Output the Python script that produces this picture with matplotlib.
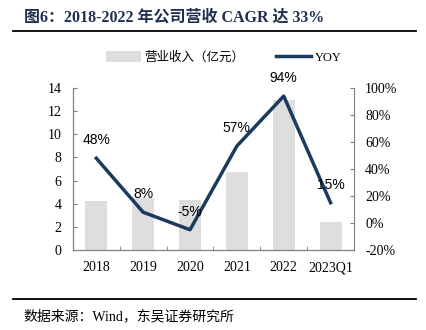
import matplotlib.pyplot as plt
import numpy as np

plt.rcParams['font.family'] = ['Liberation Serif', 'Noto Sans CJK SC']

# revenue (100m yuan) and yoy growth
years = ["2018", "2019", "2020", "2021", "2022", "2023Q1"]
revenue = [4.2, 4.5, 4.3, 6.7, 13.0, 2.4]
yoy = [48, 8, -5, 57, 94, 15]
yoy_labels = ["48%", "8%", "-5%", "57%", "94%", "15%"]

NAVY = "#1B3A5E"
BAR_GREY = "#DEDEDE"
SPINE = "#808080"

fig = plt.figure(figsize=(4.26, 3.30), dpi=100)

# header / footer
fig.text(0.056, 0.948, "图6：2018-2022 年公司营收 CAGR 达 33%", fontsize=11.5,
         fontweight="bold", color="#1F3050", va="center",
         family=["Liberation Serif", "Noto Sans CJK SC"])
fig.add_artist(plt.Line2D([0.031, 0.977], [0.906, 0.906], color="black", lw=1.3))
fig.add_artist(plt.Line2D([0.031, 0.977], [0.094, 0.094], color="black", lw=1.3))
fig.text(0.054, 0.042, "数据来源：Wind，东吴证券研究所", fontsize=10, va="center",
         family=["Liberation Serif", "Noto Sans CJK SC"])

ax = fig.add_axes([0.171, 0.2424, 0.66, 0.4909])
x = np.arange(len(years))
bars = ax.bar(x, revenue, width=0.47, color=BAR_GREY, label="营业收入（亿元）", zorder=1)
ax.set_ylim(0, 14)
ax.set_yticks(range(0, 15, 2))
ax.set_xlim(-0.5, len(years) - 0.5)
ax.set_xticks(x)
ax.set_xticklabels(years)
ax.set_xticks(np.arange(-0.5, len(years), 1.0), minor=True)
ax.tick_params(axis="x", which="major", length=0, labelsize=10, pad=8)
ax.tick_params(axis="x", which="minor", direction="in", length=3, color=SPINE)
ax.tick_params(axis="y", direction="in", length=3, color=SPINE, labelsize=10, pad=8)

ax2 = ax.twinx()
line, = ax2.plot(x, yoy, color=NAVY, lw=2.5, label="YOY", zorder=3)
ax2.set_ylim(-20, 100)
ax2.set_yticks(range(-20, 101, 20))
ax2.set_yticklabels([f"{v}%" for v in range(-20, 101, 20)])
ax2.tick_params(axis="y", direction="in", length=3, color=SPINE, labelsize=10, pad=8)

for a in (ax, ax2):
    a.spines["top"].set_visible(False)
    a.spines["left"].set_color(SPINE)
    a.spines["right"].set_color(SPINE)
    a.spines["bottom"].set_color(SPINE)
ax.spines["right"].set_visible(False)

for xi, v, lab in zip(x, yoy, yoy_labels):
    ax2.annotate(lab, (xi, v), xytext=(0, 8), textcoords="offset points",
                 ha="center", va="bottom", fontsize=10, family="Liberation Sans")

fig.legend([bars, line], ["营业收入（亿元）", "YOY"], loc="center",
           bbox_to_anchor=(0.525, 0.826), ncol=2, frameon=False,
           handlelength=2.8, handleheight=0.9, columnspacing=2.5, handletextpad=0.3,
           prop={"family": ["Liberation Serif", "Noto Sans CJK SC"], "size": 9})

fig.savefig("out.png", dpi=100)
